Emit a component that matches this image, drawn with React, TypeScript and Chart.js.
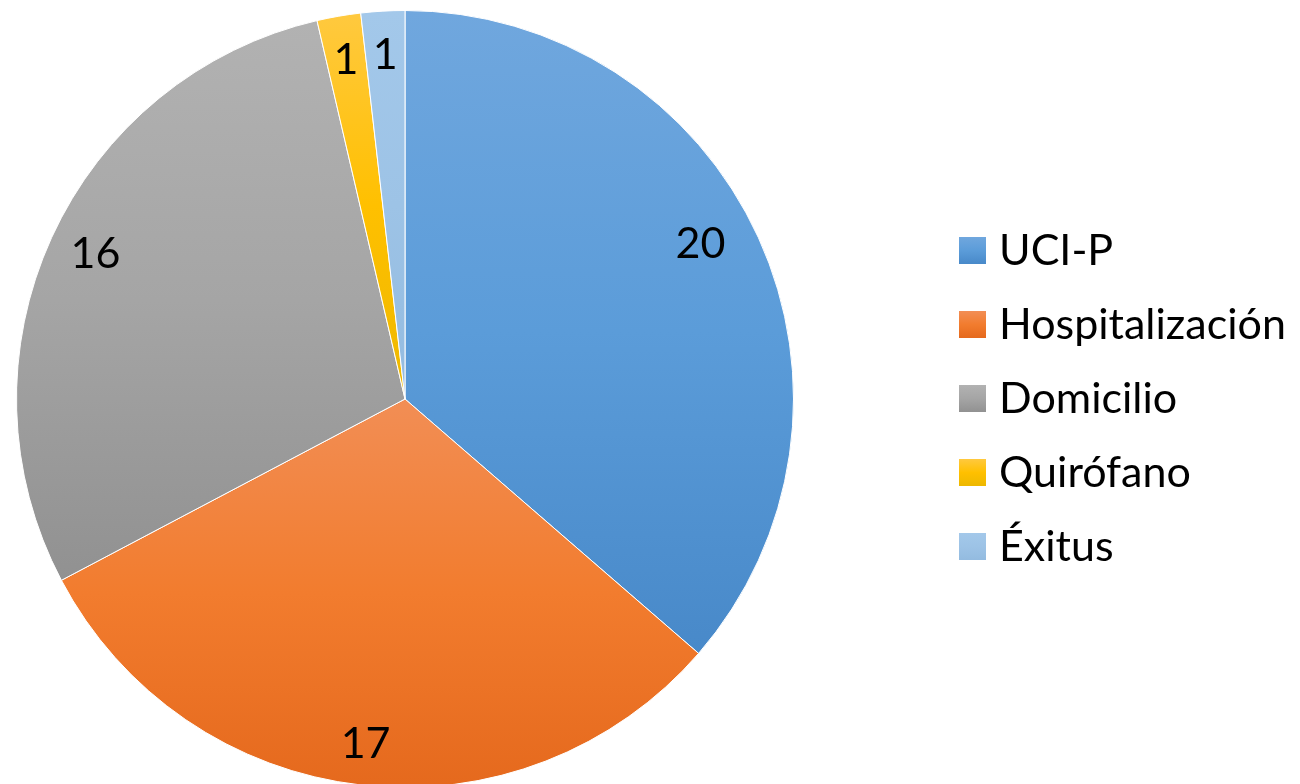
import React, { useEffect, useRef } from "react";
import { Chart, registerables } from "chart.js";

Chart.register(...registerables);

const categories = ["UCI-P", "Hospitalización", "Domicilio", "Quirófano", "Éxitus"];
const values = [20, 17, 16, 1, 1];
const colorTop = ["#70A7DE", "#F28E55", "#B2B2B2", "#FFC93F", "#A3C8EA"];
const colorMid = ["#5B9CD9", "#F27C2E", "#A5A5A5", "#FFC000", "#9DC3E6"];
const colorBottom = ["#4889C9", "#E5691D", "#919191", "#EDB800", "#93BBE0"];
const labelRadius = [0.86, 0.89, 0.882, 0.89, 0.89];
const labelAngleShiftDeg = [-3.3, 0, 0.85, 0, 0];

const FONT = "Lato, 'Open Sans', sans-serif";
const LABEL_SIZE = 43;
const LEGEND_SIZE = 43;

const gradientPlugin = {
  id: "sliceGradient",
  beforeDatasetsDraw(chart: any) {
    const ctx = chart.ctx;
    const meta = chart.getDatasetMeta(0);
    meta.data.forEach((arc: any, i: number) => {
      const { x, y, startAngle, endAngle, outerRadius } = arc.getProps(
        ["x", "y", "startAngle", "endAngle", "outerRadius"],
        true
      );
      let minY = y;
      let maxY = y;
      const check = (a: number) => {
        const py = y + outerRadius * Math.sin(a);
        minY = Math.min(minY, py);
        maxY = Math.max(maxY, py);
      };
      check(startAngle);
      check(endAngle);
      [-Math.PI / 2, Math.PI / 2, (3 * Math.PI) / 2, (5 * Math.PI) / 2].forEach((k) => {
        if (k > startAngle && k < endAngle) check(k);
      });
      const g = ctx.createLinearGradient(0, minY, 0, maxY);
      g.addColorStop(0, colorTop[i]);
      g.addColorStop(0.5, colorMid[i]);
      g.addColorStop(1, colorBottom[i]);
      arc.options.backgroundColor = g;
    });
  },
  afterDatasetsDraw(chart: any) {
    const ctx = chart.ctx;
    const meta = chart.getDatasetMeta(0);
    ctx.save();
    ctx.font = `${LABEL_SIZE}px ${FONT}`;
    ctx.fillStyle = "#000000";
    ctx.textAlign = "center";
    ctx.textBaseline = "alphabetic";
    meta.data.forEach((arc: any, i: number) => {
      const { x, y, startAngle, endAngle, outerRadius } = arc.getProps(
        ["x", "y", "startAngle", "endAngle", "outerRadius"],
        true
      );
      const mid = (startAngle + endAngle) / 2 + (labelAngleShiftDeg[i] * Math.PI) / 180;
      const r = outerRadius * labelRadius[i];
      const lx = x + r * Math.cos(mid);
      const ly = y + r * Math.sin(mid);
      ctx.fillText(String(values[i]), lx, ly + LABEL_SIZE * 0.36);
    });
    ctx.restore();
  },
  afterDraw(chart: any) {
    const ctx = chart.ctx;
    const boxSize = 27;
    const boxX = 959;
    const firstTop = 237;
    const step = 74;
    ctx.save();
    ctx.font = `${LEGEND_SIZE}px ${FONT}`;
    ctx.textAlign = "left";
    ctx.textBaseline = "alphabetic";
    categories.forEach((label, i) => {
      const top = firstTop + i * step;
      const g = ctx.createLinearGradient(0, top, 0, top + boxSize);
      g.addColorStop(0, colorTop[i]);
      g.addColorStop(0.5, colorMid[i]);
      g.addColorStop(1, colorBottom[i]);
      ctx.fillStyle = g;
      ctx.fillRect(boxX, top, boxSize, boxSize);
      ctx.fillStyle = "#000000";
      ctx.fillText(label, 999, top + boxSize + 1);
    });
    ctx.restore();
  },
};

export default function App() {
  const canvasRef = useRef<HTMLCanvasElement | null>(null);

  useEffect(() => {
    const canvas = canvasRef.current;
    if (!canvas) return;
    const chart = new Chart(canvas, {
      type: "pie",
      data: {
        labels: categories,
        datasets: [
          {
            data: values,
            backgroundColor: colorMid,
            borderColor: "#FFFFFF",
            borderWidth: 1,
          },
        ],
      },
      options: {
        responsive: false,
        animation: false,
        layout: { padding: { left: 16, top: 10, right: 506, bottom: 12 } },
        plugins: {
          legend: { display: false },
          tooltip: { enabled: false },
        },
      },
      plugins: [gradientPlugin],
    });
    return () => chart.destroy();
  }, []);

  return (
    <div style={{ position: "fixed", left: 0, top: 0, width: 1300, height: 800, background: "#FFFFFF" }}>
      <canvas ref={canvasRef} width={1300} height={800} style={{ display: "block" }} />
    </div>
  );
}
